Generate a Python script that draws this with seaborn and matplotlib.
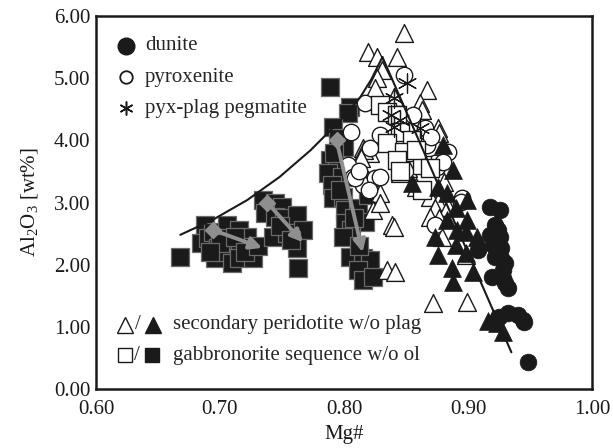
import numpy as np
import pandas as pd
import matplotlib
matplotlib.use("Agg")
import matplotlib.pyplot as plt
import seaborn as sns

# ---- data: (Mg#, Al2O3 wt%) ----
dunite_mg = [0.918, 0.926, 0.922, 0.918, 0.926, 0.920, 0.927, 0.908, 0.922, 0.927,
             0.928, 0.919, 0.928, 0.932, 0.932, 0.940, 0.944, 0.948, 0.924, 0.930,
             0.925, 0.930, 0.945]
dunite_al = [2.93, 2.88, 2.64, 2.48, 2.44, 2.32, 2.27, 2.23, 2.12, 2.11,
             1.91, 1.80, 1.78, 1.62, 1.22, 1.19, 1.11, 0.43, 2.56, 1.70,
             1.16, 2.02, 1.08]

pyrox_mg = [0.817, 0.806, 0.821, 0.803, 0.807, 0.815, 0.825, 0.848, 0.856, 0.865,
            0.829, 0.865, 0.884, 0.809, 0.829, 0.875, 0.895, 0.867, 0.873, 0.880,
            0.894, 0.873, 0.870, 0.812, 0.820]
pyrox_al = [4.60, 4.13, 3.87, 3.60, 3.41, 3.28, 3.39, 5.05, 4.41, 4.20,
            4.08, 3.95, 3.81, 3.39, 3.41, 3.57, 3.07, 3.92, 3.63, 3.65,
            3.01, 2.64, 4.05, 3.50, 3.20]

pegm_mg = [0.851, 0.840, 0.845, 0.840, 0.861, 0.838]
pegm_al = [4.92, 4.68, 4.32, 4.22, 4.20, 4.40]

sec_open_mg = [0.848, 0.819, 0.827, 0.843, 0.831, 0.827, 0.825, 0.840, 0.867, 0.861,
               0.863, 0.876, 0.877, 0.815, 0.821, 0.845, 0.861, 0.816, 0.814, 0.845,
               0.855, 0.881, 0.829, 0.819, 0.823, 0.839, 0.829, 0.835, 0.841, 0.872,
               0.899, 0.869, 0.876, 0.873, 0.884, 0.869, 0.877, 0.879, 0.898, 0.840,
               0.858, 0.852]
sec_open_al = [5.72, 5.42, 5.34, 5.34, 5.13, 5.00, 4.84, 4.69, 4.81, 4.60,
               4.49, 4.20, 4.11, 3.87, 3.79, 3.97, 3.79, 3.84, 3.71, 3.47,
               3.63, 3.33, 3.15, 3.36, 2.88, 2.64, 3.00, 1.91, 1.88, 1.38,
               1.40, 3.09, 3.01, 2.91, 2.93, 2.77, 2.75, 2.44, 2.15, 2.60,
               3.25, 3.55]

sec_fill_mg = [0.880, 0.888, 0.855, 0.876, 0.883, 0.899, 0.890, 0.883, 0.899, 0.891,
               0.898, 0.907, 0.873, 0.890, 0.876, 0.898, 0.887, 0.904, 0.888, 0.920,
               0.923, 0.928, 0.916]
sec_fill_al = [3.92, 3.52, 3.31, 3.25, 3.15, 3.04, 2.91, 2.72, 2.72, 2.56,
               2.52, 2.44, 2.44, 2.32, 2.15, 2.19, 1.95, 1.88, 1.72, 1.14,
               1.06, 0.92, 1.10]

gab_open_mg = [0.829, 0.835, 0.843, 0.845, 0.835, 0.855, 0.848, 0.843, 0.863, 0.863,
               0.845, 0.858, 0.869]
gab_open_al = [4.57, 4.45, 4.41, 4.13, 3.95, 4.00, 3.81, 3.68, 3.60, 3.20,
               3.50, 3.85, 3.55]

gab_fill_mg = [0.668, 0.688, 0.685, 0.690, 0.694, 0.698, 0.696, 0.706, 0.706, 0.704,
               0.710, 0.715, 0.716, 0.715, 0.722, 0.724, 0.727, 0.700, 0.712, 0.720,
               0.692, 0.731,
               0.735, 0.744, 0.750, 0.736, 0.744, 0.752, 0.762, 0.743, 0.754, 0.767,
               0.762, 0.763, 0.748, 0.757,
               0.789, 0.805, 0.803, 0.791, 0.795, 0.800, 0.789, 0.794, 0.787, 0.798,
               0.790, 0.791, 0.799, 0.801, 0.811, 0.817, 0.801, 0.806, 0.799, 0.805,
               0.815, 0.821, 0.811, 0.815, 0.823, 0.792, 0.797, 0.808, 0.819, 0.812]
gab_fill_al = [2.12, 2.64, 2.35, 2.43, 2.52, 2.27, 2.11, 2.64, 2.43, 2.20,
               2.03, 2.56, 2.32, 2.11, 2.44, 2.28, 2.11, 2.35, 2.45, 2.20,
               2.20, 2.30,
               3.04, 2.99, 2.93, 2.83, 2.77, 2.75, 2.80, 2.44, 2.51, 2.56,
               2.27, 1.95, 2.62, 2.40,
               4.86, 4.53, 4.44, 4.21, 4.03, 3.90, 3.68, 3.57, 3.47, 3.41,
               3.28, 3.07, 3.09, 2.88, 2.91, 2.68, 2.67, 2.56, 2.44, 2.12,
               2.11, 2.07, 1.91, 1.75, 1.80, 3.80, 3.20, 2.75, 3.12, 2.30]

# model trends
curve_mg = [0.668, 0.694, 0.722, 0.748, 0.773, 0.797, 0.813, 0.822, 0.831]
curve_al = [2.48, 2.72, 3.04, 3.41, 3.84, 4.32, 4.69, 4.98, 5.34]
trend_mg = [0.831, 0.935]
trend_al = [5.34, 0.59]

# gray evolution arrows: start -> end
arrow_start_mg = [0.694, 0.738, 0.794]
arrow_start_al = [2.56, 3.00, 4.00]
arrow_end_mg = [0.734, 0.767, 0.815]
arrow_end_al = [2.27, 2.36, 2.20]

xticks = [0.60, 0.70, 0.80, 0.90, 1.00]
yticks = [0.00, 1.00, 2.00, 3.00, 4.00, 5.00, 6.00]

# ---- style ----
sns.set_theme(style="white")
plt.rcParams["font.family"] = ["Liberation Serif", "DejaVu Serif"]
plt.rcParams["mathtext.fontset"] = "custom"
plt.rcParams["mathtext.rm"] = "Liberation Serif"
plt.rcParams["mathtext.it"] = "Liberation Serif:italic"
plt.rcParams["mathtext.bf"] = "Liberation Serif:bold"

FS = 15
BLACK = "#1a1a1a"

fig = plt.figure(figsize=(6.13, 4.48), dpi=100)
ax = fig.add_axes([96 / 613, 1 - 389 / 448, 496 / 613, 373 / 448])


def scatter(mg, al, **kw):
    df = pd.DataFrame({"mg": mg, "al": al})
    sns.scatterplot(data=df, x="mg", y="al", ax=ax, legend=False, **kw)


scatter(gab_fill_mg, gab_fill_al, marker="s", s=150, color=BLACK,
        edgecolor="#6a6a6a", linewidth=0.9, zorder=2)
scatter(sec_open_mg, sec_open_al, marker="^", s=165, facecolor="white",
        edgecolor=BLACK, linewidth=1.0, zorder=3)
scatter(pyrox_mg, pyrox_al, marker="o", s=140, facecolor="white",
        edgecolor=BLACK, linewidth=1.0, zorder=3)
scatter(gab_open_mg, gab_open_al, marker="s", s=150, facecolor="white",
        edgecolor=BLACK, linewidth=1.0, zorder=3)
scatter(pegm_mg, pegm_al, marker=(6, 2, 0), s=190, color=BLACK,
        linewidth=0.9, zorder=4)
scatter(sec_fill_mg, sec_fill_al, marker="^", s=165, color=BLACK,
        edgecolor=BLACK, linewidth=0.5, zorder=4)
scatter(dunite_mg, dunite_al, marker="o", s=145, color=BLACK,
        edgecolor=BLACK, linewidth=0.5, zorder=4)

ax.plot(curve_mg, curve_al, color=BLACK, lw=1.5, zorder=5)
ax.plot(trend_mg, trend_al, color=BLACK, lw=1.5, zorder=5)

GRAY = "#8f8f8f"
for x0, y0, x1, y1 in zip(arrow_start_mg, arrow_start_al, arrow_end_mg, arrow_end_al):
    ax.annotate("", xy=(x1, y1), xytext=(x0, y0),
                arrowprops=dict(arrowstyle="-|>,head_length=0.6,head_width=0.3",
                                color=GRAY, lw=2.8, shrinkA=0, shrinkB=0),
                zorder=6)
    ax.plot([x0], [y0], marker="D", ms=8, color=GRAY, zorder=6)

# ---- legends drawn in axes coordinates ----
tr = ax.transAxes
ax.plot([0.060], [0.920], "o", ms=12, color=BLACK, transform=tr, clip_on=False)
ax.plot([0.060], [0.836], "o", ms=9, mfc="white", mec=BLACK, mew=1.3, transform=tr)
ax.plot([0.060], [0.753], marker=(6, 2, 0), ms=10, color=BLACK, mew=1.1, transform=tr)
ax.text(0.099, 0.920, "dunite", transform=tr, fontsize=FS, va="center")
ax.text(0.099, 0.836, "pyroxenite", transform=tr, fontsize=FS, va="center")
ax.text(0.099, 0.753, "pyx-plag pegmatite", transform=tr, fontsize=FS, va="center")

ax.plot([0.058], [0.172], "^", ms=11, mfc="white", mec=BLACK, mew=1.0, transform=tr)
ax.text(0.085, 0.172, "/", transform=tr, fontsize=FS, va="center", ha="center")
ax.plot([0.115], [0.172], "^", ms=11, color=BLACK, transform=tr)
ax.text(0.155, 0.172, "secondary peridotite w/o plag", transform=tr,
        fontsize=FS, va="center")
ax.plot([0.058], [0.091], "s", ms=10, mfc="white", mec=BLACK, mew=1.0, transform=tr)
ax.text(0.083, 0.091, "/", transform=tr, fontsize=FS, va="center", ha="center")
ax.plot([0.113], [0.091], "s", ms=10, color=BLACK, transform=tr)
ax.text(0.155, 0.091, "gabbronorite sequence w/o ol", transform=tr,
        fontsize=FS, va="center")

# ---- axes ----
ax.set_xlim(0.60, 1.00)
ax.set_ylim(0.00, 6.00)
ax.set_xticks(xticks)
ax.set_yticks(yticks)
ax.set_xticklabels([f"{v:.2f}" for v in xticks])
ax.set_yticklabels([f"{v:.2f}" for v in yticks])
ax.tick_params(direction="in", length=7, width=1.5, labelsize=FS, pad=4,
               colors=BLACK)
ax.tick_params(axis="x", pad=8)
for sp in ax.spines.values():
    sp.set_linewidth(1.8)
    sp.set_color(BLACK)
ax.set_xlabel("Mg#", fontsize=FS, labelpad=4, color=BLACK)
ax.set_ylabel("Al$_2$O$_3$ [wt%]", fontsize=FS, labelpad=10, color=BLACK)

fig.savefig("out.png", dpi=100)
